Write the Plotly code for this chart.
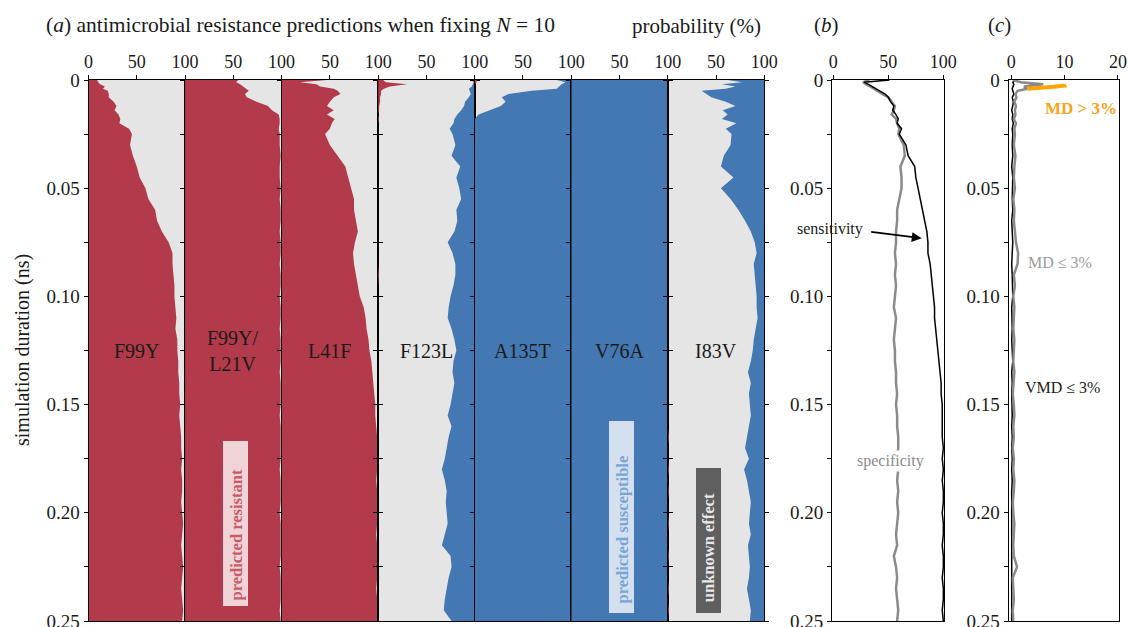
import plotly.graph_objects as go

# ---------------- data ----------------
T = [0, 0.001, 0.002, 0.003, 0.004, 0.005, 0.0065, 0.008, 0.01, 0.012, 0.014, 0.016,
     0.018, 0.02, 0.0225, 0.025, 0.03, 0.035, 0.04, 0.045, 0.05, 0.055, 0.06, 0.065,
     0.07, 0.075, 0.08, 0.085, 0.09, 0.095, 0.10, 0.105, 0.11, 0.115, 0.12, 0.125,
     0.13, 0.135, 0.14, 0.145, 0.15, 0.155, 0.16, 0.165, 0.17, 0.175, 0.18, 0.185,
     0.19, 0.195, 0.20, 0.205, 0.21, 0.215, 0.22, 0.225, 0.23, 0.235, 0.24, 0.245, 0.25]

MUTATIONS = ["F99Y", "F99Y/<br>L21V", "L41F", "F123L", "A135T", "V76A", "I83V"]

# percent predicted resistant (red, from the left)
F99Y_R = [9, 10, 12, 17, 15, 20, 21, 21, 26, 29, 27, 31, 33, 32, 42, 45,
          43, 46, 50, 53, 59, 62, 69, 71, 76, 83, 87, 87, 88, 89, 89,
          90, 91, 90, 92, 92, 93, 93, 94, 94, 95, 94, 95, 96, 96, 97,
          96, 97, 97, 96, 97, 98, 97, 96, 97, 98, 97, 96, 97, 98, 97]
F99Y_L21V_R = [55, 53, 57, 60, 62, 66, 62, 64, 74, 86, 90, 97, 98, 98, 97, 98,
               98, 99, 98, 98, 99, 98, 99, 99, 98, 99, 99, 98, 99, 99, 98,
               99, 99, 98, 99, 99, 99, 98, 99, 99, 99, 98, 99, 99, 99, 99,
               98, 99, 99, 99, 98, 99, 99, 99, 99, 98, 99, 99, 99, 98, 99]
L41F_R = [47, 19, 36, 40, 54, 58, 61, 54, 50, 47, 54, 47, 55, 52, 50, 45,
          50, 58, 66, 69, 72, 75, 75, 77, 79, 76, 74, 75, 77, 79, 81,
          85, 87, 88, 90, 91, 93, 94, 95, 96, 97, 97, 98, 99, 99, 99,
          99, 98, 99, 99, 99, 99, 98, 99, 99, 99, 99, 98, 99, 99, 99]
F123L_R = [5, 8, 30, 12, 6, 3, 3, 2, 2, 1, 1, 0, 1, 0, 0, 0,
           0, 0, 0, 0, 0, 0, 0, 0, 0, 0, 0, 0, 1, 0, 0,
           0, 0, 0, 0, 0, 0, 0, 0, 0, 0, 0, 0, 0, 0, 0,
           0, 0, 0, 0, 0, 0, 0, 0, 0, 0, 0, 0, 0, 0, 0]
A135T_R = [2, 2, 0, 0, 0, 0, 0, 0, 0, 0, 0, 0, 0, 0, 0, 0,
           0, 0, 0, 0, 0, 0, 0, 0, 0, 0, 0, 0, 0, 0, 0,
           0, 0, 0, 0, 0, 0, 0, 0, 0, 0, 0, 0, 0, 0, 0,
           0, 0, 0, 0, 0, 0, 0, 0, 0, 0, 0, 0, 0, 0, 0]
I83V_R = [0, 0, 0, 0, 0, 0, 0, 0, 0, 0, 0, 0, 0, 0, 0, 0,
          0, 0, 0, 0, 0, 0, 0, 0, 0, 0, 0, 0, 0, 0, 0,
          0, 0, 0, 0, 0, 0, 0, 0, 0, 0, 0, 0, 1, 0, 0,
          1, 0, 1, 0, 0, 1, 0, 0, 1, 0, 0, 1, 0, 1, 0]

# percent predicted susceptible (blue, from the right)
F123L_B = [4, 1, 2, 3, 6, 5, 4, 6, 10, 11, 14, 18, 21, 22, 26, 23,
           20, 24, 15, 19, 16, 14, 19, 18, 21, 28, 23, 20, 20, 22, 25,
           27, 28, 24, 21, 19, 22, 23, 21, 23, 25, 28, 24, 27, 29, 31,
           34, 31, 29, 30, 29, 28, 31, 34, 25, 24, 27, 29, 31, 32, 24]
A135T_B = [15, 6, 10, 12, 15, 41, 65, 72, 68, 73, 84, 96, 100, 100, 100, 100,
           100, 100, 100, 100, 100, 100, 100, 100, 100, 100, 100, 100, 100, 100, 100,
           100, 100, 100, 100, 100, 100, 100, 100, 100, 100, 100, 100, 100, 100, 100,
           100, 100, 100, 100, 100, 100, 100, 100, 100, 100, 100, 100, 100, 100, 100]
V76A_B = [100, 100, 100, 100, 100, 100, 100, 100, 100, 100, 100, 100, 100, 100, 100, 100,
          100, 100, 100, 100, 100, 100, 100, 100, 100, 100, 100, 100, 100, 100, 100,
          100, 100, 100, 100, 100, 100, 100, 100, 100, 100, 100, 100, 100, 100, 100,
          100, 100, 100, 100, 100, 100, 100, 100, 100, 100, 100, 100, 100, 100, 100]
I83V_B = [38, 23, 44, 30, 40, 65, 60, 55, 40, 30, 43, 38, 44, 29, 40, 34,
          35, 42, 45, 32, 45, 35, 27, 20, 14, 10, 8, 11, 10, 9, 8,
          8, 7, 9, 11, 12, 14, 17, 14, 16, 15, 14, 16, 18, 20, 16,
          21, 18, 16, 14, 15, 16, 14, 17, 16, 15, 16, 18, 16, 14, 15]

RESISTANT = [F99Y_R, F99Y_L21V_R, L41F_R, F123L_R, A135T_R, None, I83V_R]
SUSCEPTIBLE = [None, None, None, F123L_B, A135T_B, V76A_B, I83V_B]

# (b) sensitivity / specificity (%)
SENSITIVITY = [51, 28, 32, 35, 38, 42, 47, 50, 52, 55, 54, 57, 59, 58, 62, 60,
               66, 68, 74, 75, 77, 79, 81, 83, 85, 86, 86, 88, 89, 90, 91,
               92, 92, 93, 94, 95, 96, 97, 98, 98, 99, 99, 99, 99, 100, 99,
               100, 99, 100, 100, 99, 100, 100, 99, 100, 100, 99, 100, 100, 99, 100]
SPECIFICITY = [33, 27, 30, 34, 37, 40, 45, 50, 53, 56, 55, 53, 57, 58, 60, 59,
               64, 65, 61, 62, 62, 60, 58, 58, 57, 57, 56, 57, 56, 57, 56,
               55, 57, 56, 55, 56, 56, 57, 57, 58, 57, 58, 58, 59, 59, 58,
               59, 58, 59, 58, 59, 58, 57, 58, 55, 57, 58, 57, 58, 59, 58]

# (c) error rates (%)
VMD = [0.8, 0.3, 0.5, 0.4, 0.2, 0.3, 0.5, 0.2, 0.4, 0.3, 0.1, 0.3, 0.2, 0.4, 0.2, 0.3,
       0.2, 0.3, 0.1, 0.3, 0.2, 0.2, 0.3, 0.1, 0.2, 0.3, 0.2, 0.1, 0.2, 0.2, 0.3,
       0.1, 0.2, 0.2, 0.1, 0.2, 0.3, 0.1, 0.2, 0.1, 0.2, 0.2, 0.1, 0.2, 0.1, 0.2,
       0.1, 0.2, 0.1, 0.1, 0.2, 0.1, 0.2, 0.1, 0.2, 0.1, 0.1, 0.2, 0.1, 0.2, 0.1]
MD_LOW = [0.3, 1.8, 6.0, 2.4, 3.0, 1.2, 0.8, 1.0, 0.6, 0.9, 0.7, 0.8, 0.5, 0.9, 0.6, 0.7,
          0.5, 0.8, 0.6, 0.5, 0.7, 0.4, 0.6, 0.5, 0.7, 0.9, 1.3, 1.2, 0.5, 0.7, 0.4,
          0.6, 0.5, 0.4, 0.6, 0.5, 0.4, 0.6, 0.5, 0.3, 0.5, 0.6, 0.4, 0.5, 0.3, 0.5,
          0.4, 0.6, 0.5, 0.3, 0.4, 0.6, 0.5, 0.4, 0.5, 1.1, 0.3, 0.4, 0.5, 0.3, 0.4]
MD_HIGH_T = [0.0022, 0.0026, 0.0031, 0.0036, 0.0040]
MD_HIGH = [9.8, 9.9, 8.0, 5.5, 3.0]

Y_TICKS = [0, 0.05, 0.10, 0.15, 0.20, 0.25]
Y_TICKTEXT = ["0", "0.05", "0.10", "0.15", "0.20", "0.25"]
Y_MINOR = [0.025, 0.075, 0.125, 0.175, 0.225]

# ---------------- style / layout ----------------
# the page body margin is removed (post_script) so the figure fills the window
OFF = 0
SW, SH = 1129, 627
W, H = SW - 2 * OFF, SH - 2 * OFF
RED = "#B33A4A"
BLUE = "#4478B2"
GREY = "#E5E5E5"
FONT = "Liberation Serif"
TXT = "#1a1a1a"


def px(x):
    return (x - OFF) / W


def py(y):
    return 1 - (y - OFF) / H


Y_TOP, Y_BOT = 80, 621
A_LEFT, A_W = 88.5, 96.55

fig = go.Figure()
layout = dict(
    width=W, height=H, autosize=False,
    margin=dict(l=0, r=0, t=0, b=0, pad=0, autoexpand=False),
    paper_bgcolor="white", plot_bgcolor="rgba(0,0,0,0)",
    showlegend=False, font=dict(family=FONT, color=TXT),
)
shapes = []
annotations = []

common_y = dict(range=[0.25, 0], domain=[max(0, py(Y_BOT)), py(Y_TOP)], tickmode="array",
                tickvals=Y_TICKS, ticktext=Y_TICKTEXT, ticks="outside", ticklen=4,
                tickcolor="black", showline=True, linecolor="black", linewidth=1,
                showgrid=False, zeroline=False, fixedrange=True, automargin=False,
                ticklabeloverflow="allow",
                tickfont=dict(size=19, family=FONT, color=TXT),
                minor=dict(tickmode="array", tickvals=Y_MINOR, ticks="outside",
                           ticklen=4, tickcolor="black"))
common_x = dict(side="top", tickmode="array", ticks="outside", ticklen=4,
                tickcolor="black", showline=True, linecolor="black", linewidth=1,
                mirror=True, showgrid=False, zeroline=False, fixedrange=True,
                automargin=False, ticklabeloverflow="allow",
                tickfont=dict(size=18, family=FONT, color=TXT))

for i in range(7):
    n = i + 1
    xa = "x" if n == 1 else f"x{n}"
    ya = "y" if n == 1 else f"y{n}"
    x0 = A_LEFT + i * A_W
    layout[f"xaxis{n}"] = dict(common_x, domain=[px(x0), px(x0 + A_W)], range=[0, 100],
                               anchor=ya, tickvals=[0, 50, 100],
                               ticktext=["0" if n == 1 else "", "50", "100"])
    layout[f"yaxis{n}"] = dict(common_y, anchor=xa, showticklabels=(n == 1),
                               mirror="ticks")
    shapes.append(dict(type="rect", xref=f"{xa} domain", yref=f"{ya} domain",
                       x0=0, x1=1, y0=0, y1=1, fillcolor=GREY,
                       line=dict(width=0), layer="below"))
    r = RESISTANT[i]
    if r is not None:
        fig.add_trace(go.Scatter(x=r, y=T, mode="lines", line=dict(width=0, color=RED),
                                 fill="tozerox", fillcolor=RED, xaxis=xa, yaxis=ya,
                                 hoverinfo="skip"))
    b = SUSCEPTIBLE[i]
    if b is not None:
        fig.add_trace(go.Scatter(x=[100 for _ in T], y=T, mode="lines",
                                 line=dict(width=0, color=BLUE), xaxis=xa, yaxis=ya,
                                 hoverinfo="skip"))
        fig.add_trace(go.Scatter(x=[100 - v for v in b], y=T, mode="lines",
                                 line=dict(width=0, color=BLUE), fill="tonextx",
                                 fillcolor=BLUE, xaxis=xa, yaxis=ya, hoverinfo="skip"))
    annotations.append(dict(text=MUTATIONS[i], xref=f"{xa} domain", yref=f"{ya} domain",
                            x=0.5, y=0.5, xanchor="center", yanchor="middle",
                            showarrow=False,
                            font=dict(size=20, family=FONT, color=TXT)))

# (b)
layout["xaxis8"] = dict(common_x, domain=[px(832), px(944)], range=[-1.2, 100.6],
                        anchor="y8", tickvals=[0, 50, 100])
layout["yaxis8"] = dict(common_y, anchor="x8", mirror=True)
fig.add_trace(go.Scatter(x=SPECIFICITY, y=T, mode="lines",
                         line=dict(color="#8a8a8a", width=2.5),
                         xaxis="x8", yaxis="y8", hoverinfo="skip"))
fig.add_trace(go.Scatter(x=SENSITIVITY, y=T, mode="lines",
                         line=dict(color="black", width=1.5),
                         xaxis="x8", yaxis="y8", hoverinfo="skip"))

# (c)
layout["xaxis9"] = dict(common_x, domain=[px(1008.5), px(1119)], range=[-0.5, 20.2],
                        anchor="y9", tickvals=[0, 10, 20])
layout["yaxis9"] = dict(common_y, anchor="x9", mirror=True)
fig.add_trace(go.Scatter(x=VMD, y=T, mode="lines", line=dict(color="black", width=1.5),
                         xaxis="x9", yaxis="y9", hoverinfo="skip"))
fig.add_trace(go.Scatter(x=MD_LOW, y=T, mode="lines", line=dict(color="#8a8a8a", width=2.5),
                         xaxis="x9", yaxis="y9", hoverinfo="skip"))
fig.add_trace(go.Scatter(x=MD_HIGH, y=MD_HIGH_T, mode="lines",
                         line=dict(color="#FFA500", width=4),
                         xaxis="x9", yaxis="y9", hoverinfo="skip"))

# label boxes
shapes += [
    dict(type="rect", xref="paper", yref="paper", x0=px(223), x1=px(248),
         y0=py(606), y1=py(441), fillcolor="#F0D3D7", line=dict(width=0), layer="above"),
    dict(type="rect", xref="paper", yref="paper", x0=px(609), x1=px(634),
         y0=py(613), y1=py(421), fillcolor="#D4E0F0", line=dict(width=0), layer="above"),
    dict(type="rect", xref="paper", yref="paper", x0=px(696), x1=px(721),
         y0=py(613), y1=py(468), fillcolor="#5F5F5F", line=dict(width=0), layer="above"),
]


def txt(text, x, y, size, color=TXT, angle=0, **kw):
    d = dict(text=text, xref="paper", yref="paper", x=px(x), y=py(y), showarrow=False,
             xanchor="center", yanchor="middle",
             textangle=angle, font=dict(size=size, family=FONT, color=color))
    d.update(kw)
    return d


annotations += [
    txt("(<i>a</i>) antimicrobial resistance predictions when fixing <i>N</i> = 10",
        44, 25, 21.5, xanchor="left"),
    txt("probability (%)", 696, 26, 21),
    txt("(<i>b</i>)", 826, 25, 21),
    txt("(<i>c</i>)", 999, 25, 21),
    txt("simulation duration (ns)", 22, 350, 20, angle=-90),
    txt("<b>predicted resistant</b>", 235.5, 535, 16.5, "#C95C6A", angle=-90),
    txt("<b>predicted susceptible</b>", 622, 529.5, 16.5, "#79A5D6", angle=-90),
    txt("<b>unknown effect</b>", 708.5, 547.7, 16.5, "#E8E8E8", angle=-90),
    txt("sensitivity", 830, 229, 16),
    dict(text="", xref="paper", yref="paper", x=px(921.7), y=py(238.3),
         ax=-52, ay=-6.6, axref="pixel", ayref="pixel", showarrow=True,
         arrowhead=2, arrowsize=1.1, arrowwidth=1.8, arrowcolor="black", standoff=0),
    txt("specificity", 891, 461, 16, "#8a8a8a", bgcolor="white", borderpad=1),
    txt("<b>MD &gt; 3%</b>", 1081, 108, 17, "#F9A21A"),
    txt("MD ≤ 3%", 1060, 263, 16, "#9a9a9a"),
    txt("VMD ≤ 3%", 1062, 387, 16, TXT),
]

layout["shapes"] = shapes
layout["annotations"] = annotations
fig.update_layout(**layout)

fig.write_html("out.html", config={"displayModeBar": False},
               post_script="document.body.style.margin='0';"
                           "document.body.style.overflow='hidden';")
